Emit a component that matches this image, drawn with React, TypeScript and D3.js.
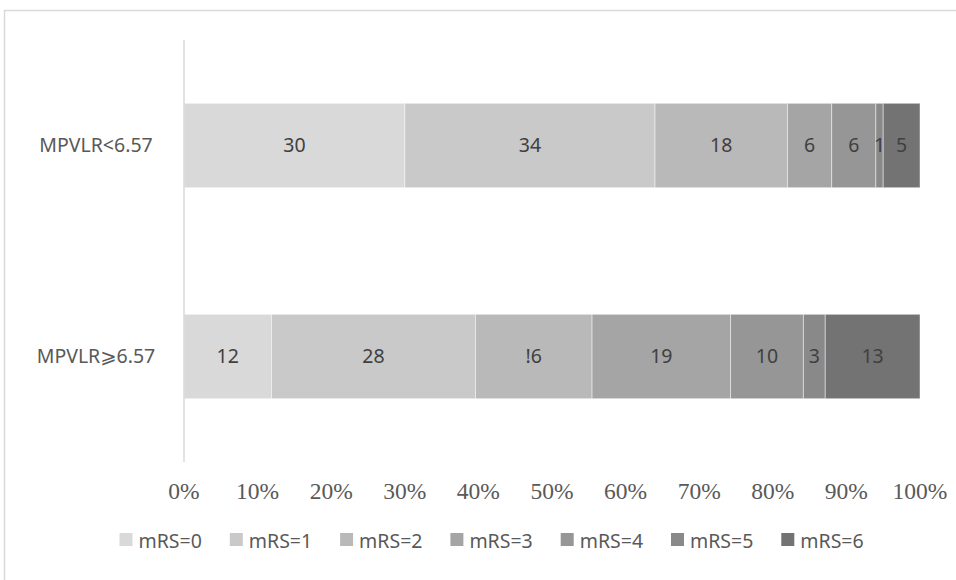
import React from "react";
import * as d3 from "d3";

const categories = ["MPVLR<6.57", "MPVLR⩾6.57"];
const seriesNames = ["mRS=0", "mRS=1", "mRS=2", "mRS=3", "mRS=4", "mRS=5", "mRS=6"];
const valuesLow = [30, 34, 18, 6, 6, 1, 5];
const valuesHigh = [12, 28, 16, 19, 10, 3, 13];
const labelsLow = ["30", "34", "18", "6", "6", "1", "5"];
const labelsHigh = ["12", "28", "!6", "19", "10", "3", "13"];
const colors = ["#d9d9d9", "#c9c9c9", "#b9b9b9", "#a5a5a5", "#969696", "#898989", "#737373"];
const ticks = [0, 0.1, 0.2, 0.3, 0.4, 0.5, 0.6, 0.7, 0.8, 0.9, 1.0];

const W = 956;
const H = 580;

export default function App() {
  const x = d3.scaleLinear().domain([0, 1]).range([184, 920]);
  const y = d3.scaleBand<string>().domain(categories).range([40, 462]).paddingInner(0.6).paddingOuter(0.3);
  const rows = [
    { cat: categories[0], vals: valuesLow, labels: labelsLow },
    { cat: categories[1], vals: valuesHigh, labels: labelsHigh },
  ];
  const sans = "'Noto Sans', 'DejaVu Sans', sans-serif";
  return (
    <svg width={W} height={H} style={{ position: "absolute", left: 0, top: 0, background: "#fff" }}>
      <rect x={4.5} y={10.5} width={2000} height={2000} fill="none" stroke="#d9d9d9" strokeWidth={1.5} />
      {rows.map((r) => {
        const total = d3.sum(r.vals);
        let acc = 0;
        const y0 = y(r.cat)!;
        const bw = y.bandwidth();
        return (
          <g key={r.cat}>
            {r.vals.map((v, i) => {
              const start = acc / total;
              acc += v;
              const end = acc / total;
              const x0 = x(start);
              const x1 = x(end);
              return (
                <g key={i}>
                  <rect x={x0} y={y0} width={x1 - x0} height={bw} fill={colors[i]} stroke="#ffffff" strokeOpacity={0.45} strokeWidth={1} />
                  <text x={(x0 + x1) / 2} y={y0 + bw / 2} dy="0.35em" textAnchor="middle" fontFamily={sans} fontSize={19.5} fill="#404040">
                    {r.labels[i]}
                  </text>
                </g>
              );
            })}
            <text x={96} y={y0 + bw / 2} dy="0.35em" textAnchor="middle" fontFamily={sans} fontSize={19.5} fill="#595959">
              {r.cat}
            </text>
          </g>
        );
      })}
      <line x1={184} x2={184} y1={40} y2={462} stroke="#d9d9d9" strokeWidth={1.5} />
      {ticks.map((t) => (
        <text key={t} x={x(t)} y={499} textAnchor="middle" fontFamily="'Liberation Serif', 'Times New Roman', serif" fontSize={23.5} fill="#595959">
          {d3.format(".0%")(t)}
        </text>
      ))}
      {seriesNames.map((s, i) => {
        const lx = 119.5 + i * 110.3;
        return (
          <g key={s}>
            <rect x={lx} y={533} width={13} height={13} fill={colors[i]} />
            <text x={lx + 19} y={547.5} fontFamily={sans} fontSize={19.5} fill="#595959">
              {s}
            </text>
          </g>
        );
      })}
    </svg>
  );
}
